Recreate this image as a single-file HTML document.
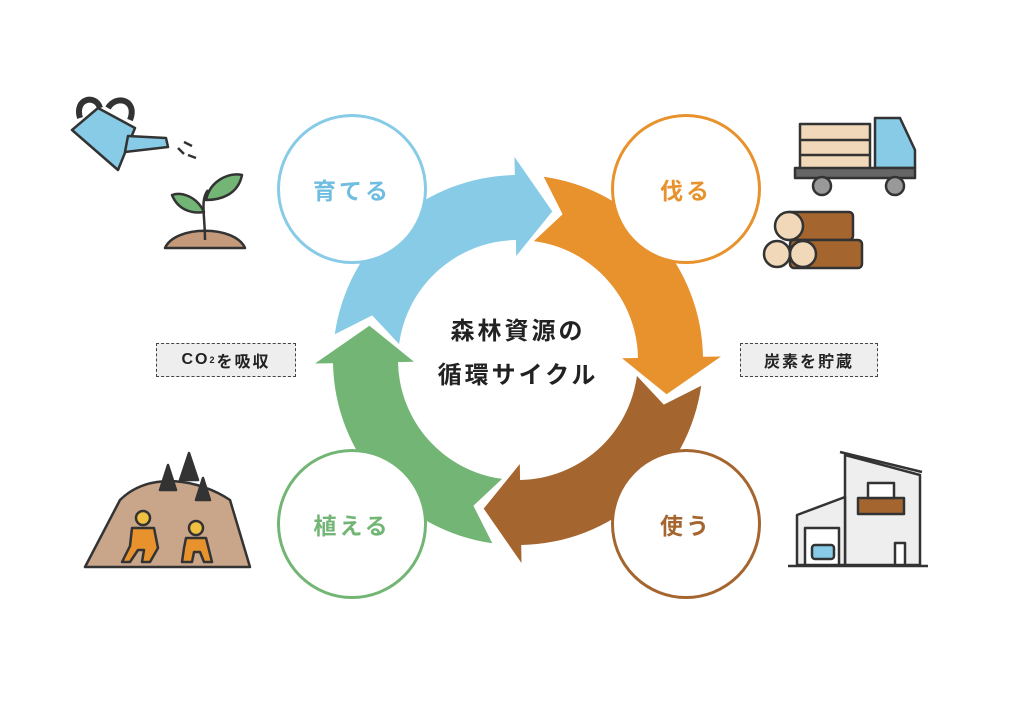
<!DOCTYPE html>
<html><head><meta charset="utf-8"><style>
html,body{margin:0;padding:0;background:#fff;}
body{width:1024px;height:702px;position:relative;overflow:hidden;font-family:"Liberation Sans","Noto Sans CJK JP",sans-serif;}
.c{position:absolute;width:150px;height:150px;border-radius:50%;border:3px solid;box-sizing:border-box;display:flex;align-items:center;justify-content:center;font-weight:bold;font-size:23px;letter-spacing:3px;background:#fff;}
.box{position:absolute;height:34px;border:1.5px dashed #444;background:#eee;box-sizing:border-box;display:flex;align-items:center;justify-content:center;font-weight:bold;font-size:16px;letter-spacing:2px;color:#222;}
.ct{position:absolute;left:418px;width:200px;text-align:center;font-weight:bold;font-size:24px;letter-spacing:3px;color:#222;}
</style></head><body>
<svg id="ring" width="1024" height="702" style="position:absolute;left:0;top:0"></svg>
<div class="c" style="left:277px;top:114px;border-color:#87cbe6;color:#6fbde0">育てる</div>
<div class="c" style="left:611px;top:114px;border-color:#e8922e;color:#e8922e">伐る</div>
<div class="c" style="left:277px;top:449px;border-color:#72b574;color:#72b574">植える</div>
<div class="c" style="left:611px;top:449px;border-color:#a5652f;color:#a5652f">使う</div>
<div class="ct" style="top:311px">森林資源の</div>
<div class="ct" style="top:355px">循環サイクル</div>
<div class="box" style="left:156px;top:343px;width:140px">CO<sup style="font-size:9px">2</sup>を吸収</div>
<div class="box" style="left:740px;top:343px;width:138px">炭素を貯蔵</div>

<svg width="1024" height="702" style="position:absolute;left:0;top:0" stroke="#333" stroke-width="2.5" stroke-linejoin="round">
 <g fill="#87cbe6">
  <path d="M80 118 C74 98 96 94 100 108" fill="none" stroke-width="6"/>
  <path d="M108 108 C116 94 138 100 130 120" fill="none" stroke-width="6"/>
  <path d="M72 130 L98 108 L135 128 L118 170 Z"/>
  <path d="M128 136 L166 138 L168 147 L125 152 Z"/>
 </g>
 <path d="M178 148 l6 6 M184 142 l8 4 M188 155 l8 3" fill="none"/>
 <path d="M165 248 C175 225 235 225 245 248 Z" fill="#c49a7b"/>
 <path d="M205 240 C205 215 200 200 208 190" fill="none"/>
 <path d="M206 200 C210 180 230 172 242 175 C238 195 220 200 206 200Z" fill="#72b574"/>
 <path d="M204 212 C196 195 180 192 172 195 C178 210 192 214 204 212Z" fill="#72b574"/>
 <rect x="800" y="124" width="70" height="46" fill="#f0d8b8"/>
 <path d="M800 140 H870 M800 155 H870" fill="none"/>
 <path d="M875 118 H900 L915 150 V168 H875 Z" fill="#87cbe6"/>
 <rect x="795" y="168" width="120" height="10" fill="#666"/>
 <circle cx="822" cy="186" r="9" fill="#999"/><circle cx="895" cy="186" r="9" fill="#999"/>
 <rect x="785" y="212" width="68" height="28" rx="4" fill="#a5652f"/>
 <rect x="790" y="240" width="72" height="28" rx="4" fill="#a5652f"/>
 <circle cx="789" cy="226" r="14" fill="#f0d8b8"/>
 <circle cx="777" cy="254" r="13" fill="#f0d8b8"/>
 <circle cx="803" cy="254" r="13" fill="#f0d8b8"/>
 <path d="M85 567 L120 500 C150 470 200 480 230 500 L250 567 Z" fill="#c9a68a"/>
 <path d="M160 490 l8 -25 l8 25z M180 480 l9 -27 l9 27z M196 500 l7 -22 l7 22z" fill="#333"/>
 <g fill="#e8922e">
  <circle cx="143" cy="518" r="7" fill="#f0c040"/>
  <path d="M132 528 h22 l4 20 l-8 14 h-8 l2 -12 h-6 l-8 12 h-8 l8 -16 z"/>
  <circle cx="196" cy="528" r="7" fill="#f0c040"/>
  <path d="M186 538 h20 l6 24 h-8 l-4 -10 h-6 l-2 10 h-10 l2 -14 z"/>
 </g>
 <path d="M845 455 L920 475 V565 H845 Z" fill="#eee"/>
 <path d="M797 515 L845 497 V565 H797 Z" fill="#eee"/>
 <path d="M840 452 L922 472" fill="none"/>
 <rect x="805" y="528" width="34" height="37" fill="#fff"/>
 <rect x="812" y="545" width="22" height="14" rx="3" fill="#87cbe6"/>
 <rect x="858" y="498" width="46" height="16" fill="#a5652f"/>
 <rect x="868" y="483" width="26" height="15" fill="#fff"/>
 <rect x="895" y="543" width="10" height="22" fill="#fff"/>
 <path d="M788 566 H928" fill="none"/>
</svg>
<script>
(function(){
 var cx=518,cy=360,Ri=120,Ro=185,Rm=152.5,Hi=104,Ho=203,L=14,g=4;
 function P(r,a){a=a*Math.PI/180;return (cx+r*Math.sin(a)).toFixed(1)+" "+(cy-r*Math.cos(a)).toFixed(1);}
 var tips=[13,103,193,283],cols=["#87cbe6","#e8922e","#a5652f","#72b574"];
 var s="";
 for(var i=0;i<4;i++){
  var t=tips[i],b=t-L,pt=tips[(i+3)%4]-(i==0?360:0),pb=pt-L;
  var ao=pb+L*(Ho-Ro)/(Ho-Rm)+g, ai=pb+L*(Ri-Hi)/(Rm-Hi)+g;
  var d="M"+P(Ro,ao)+" A"+Ro+" "+Ro+" 0 0 1 "+P(Ro,b)+" L"+P(Ho,b)+" L"+P(Rm,t)+" L"+P(Hi,b)+" L"+P(Ri,b)+" A"+Ri+" "+Ri+" 0 0 0 "+P(Ri,ai)+" L"+P(Rm,pt+g)+" Z";
  s+='<path d="'+d+'" fill="'+cols[i]+'"/>';
 }
 document.getElementById("ring").innerHTML=s;
})();
</script>
</body></html>
